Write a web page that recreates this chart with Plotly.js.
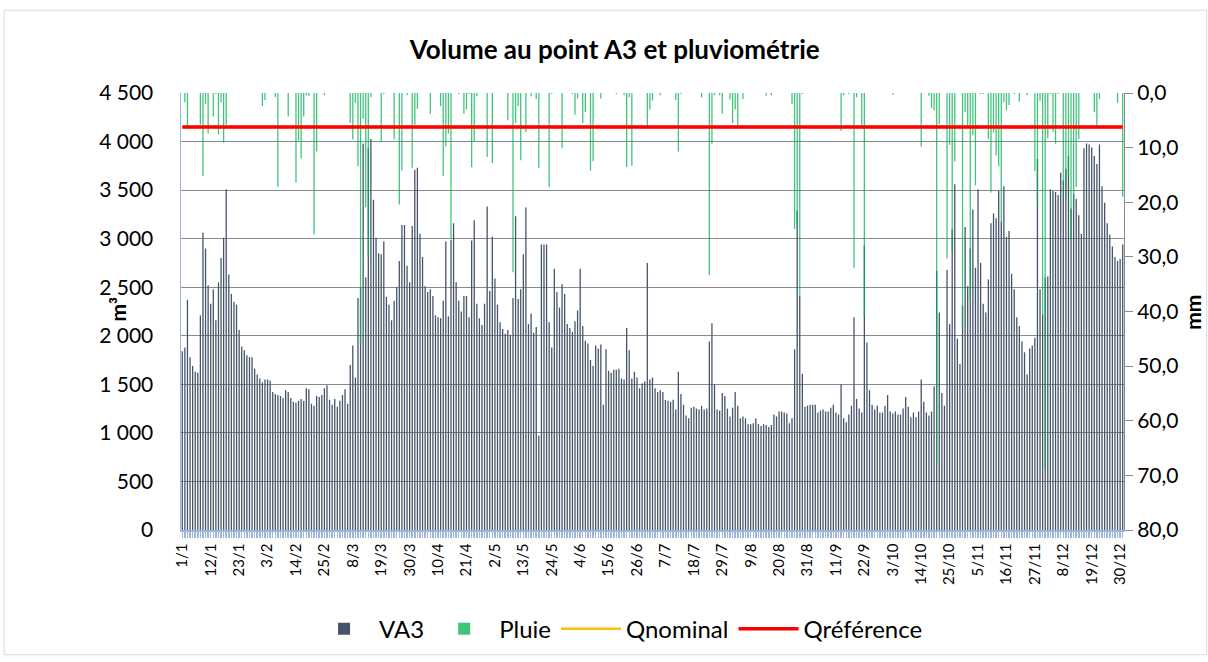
<!DOCTYPE html>
<html>
<head>
<meta charset="utf-8">
<script src="https://cdn.plot.ly/plotly-3.0.1.min.js"></script>
<style>
  html, body { margin: 0; padding: 0; background: #fff; }
  #plotArea { width: 1208px; height: 662px; }
</style>
</head>
<body>
<div id="plotArea"></div>
<script>
// daily categories 1/1 .. 31/12
var monthDays = [31, 28, 31, 30, 31, 30, 31, 31, 30, 31, 30, 31];
var days = [];
monthDays.forEach(function (n, m) {
  for (var d = 1; d <= n; d++) days.push(d + "/" + (m + 1));
});

// VA3 volume (m3), one value per day
var va3 = [
  1840,1880,2370,1780,1690,1630,1620,2210,3060,2900,
  2520,2330,2480,2160,2550,2800,3010,3510,2630,2430,
  2350,2320,2060,1890,1850,1800,1780,1780,1660,1600,
  1560,1520,1550,1550,1540,1420,1400,1390,1380,1360,
  1440,1420,1360,1320,1310,1330,1350,1330,1460,1450,
  1300,1280,1380,1370,1390,1460,1490,1340,1290,1350,
  1270,1330,1390,1450,1300,1700,1900,1570,2390,2500,
  3980,2600,3930,4030,3400,3010,2850,2840,2970,2400,
  2320,2160,2360,2500,2770,3140,3140,2720,2550,3130,
  3710,3730,3050,2810,2510,2450,2480,2410,2210,2190,
  2180,2360,2970,2200,2990,3160,2550,2360,2250,2410,
  2410,2190,2980,3190,2330,2180,2110,2330,3330,2460,
  3020,2590,2320,2140,2070,2020,2060,2010,2390,3230,
  2380,2480,2840,3320,2120,2230,2030,2090,970,2940,
  2940,2940,2140,1880,2690,2450,2290,2530,2430,2120,
  2080,2040,2150,2260,2690,2100,1950,1920,1750,1690,
  1900,1870,1910,1290,1860,1640,1620,1650,1650,1660,
  1560,1550,2080,1850,1560,1630,1570,1460,1510,1530,
  2750,1550,1570,1460,1420,1440,1420,1340,1330,1320,
  1340,1240,1630,1400,1290,1180,1150,1260,1270,1250,
  1240,1280,1240,1250,1940,2130,1500,1240,1230,1410,
  1380,1250,1170,1260,1420,1280,1150,1170,1150,1090,
  1090,1100,1150,1090,1070,1090,1080,1060,1080,1190,
  1170,1220,1220,1210,1200,1100,1150,1860,3290,2410,
  1610,1270,1280,1290,1290,1290,1210,1230,1240,1220,
  1220,1260,1290,1210,1190,1500,1150,1110,1190,1280,
  2190,1350,1250,1210,2930,1930,1440,1290,1240,1280,
  1210,1210,1280,1390,1220,1200,1220,1190,1190,1250,
  1370,1270,1160,1210,1160,1220,1550,1320,1210,1180,
  1220,1480,2670,2240,1410,1280,2680,2120,3100,3560,
  1970,1710,2310,3120,2510,2900,3300,2700,3510,2750,
  2330,2240,2580,3160,3260,3210,3490,3180,3540,3020,
  3080,2640,2480,2190,2100,1940,1830,1600,1870,1900,
  1980,3820,2480,2220,2600,2610,3510,3490,3480,3450,
  3680,3600,3720,3850,3310,3460,3410,3240,3050,3930,
  3980,3970,3940,3850,3770,3970,3540,3370,3160,3040,
  2920,2810,2770,2790,2940
];

// rain (mm): day index and amount, dry days left out
var rainDay = [
  1,2,7,8,9,10,12,13,14,15,16,17,
  31,32,36,37,41,44,45,46,47,48,49,51,52,55,
  65,66,67,68,69,70,71,72,73,77,78,82,84,85,87,89,90,
  91,96,100,101,102,103,104,107,109,110,111,112,113,114,118,120,126,128,129,130,131,133,135,137,
  138,142,143,147,151,152,153,155,156,158,159,162,168,171,172,173,174,180,181,182,
  185,191,192,193,201,204,205,206,208,209,212,213,214,215,217,226,228,
  236,237,238,239,240,255,256,258,260,261,263,264,275,
  286,289,290,291,292,293,296,297,298,299,302,303,304,305,306,307,309,310,
  312,313,314,315,316,317,318,319,320,322,
  324,327,330,331,332,333,334,335,336,337,338,339,
  341,342,343,344,345,346,347,353,354,355,362,364
];
var rainMm = [
  1.7,6.1,5.8,15.2,2.0,7.4,4.3,0.2,7.6,1.7,9.1,5.8,
  2.4,1.3,0.8,17.2,4.3,16.4,8.7,12.0,4.3,0.4,0.5,25.9,10.7,0.4,
  5.5,8.5,1.8,13.4,46.0,4.7,20.9,30.0,0.8,9.0,0.2,8.5,20.4,14.2,0.4,13.7,5.8,
  2.9,3.8,2.4,15.2,9.8,7.4,26.6,0.2,3.8,3.0,0.2,13.6,8.8,0.6,11.7,12.8,5.0,32.8,5.5,2.4,12.3,7.2,0.6,1.1,
  13.7,17.2,0.2,10.0,0.2,4.0,1.0,5.5,3.5,14.2,12.5,1.0,0.2,0.4,13.6,0.8,13.3,6.0,3.0,1.4,
  0.4,1.3,10.7,0.2,0.8,33.3,9.3,0.4,0.4,3.8,1.2,5.5,3.0,6.0,1.1,0.5,0.4,
  2.0,24.9,24.0,37.1,0.2,6.9,0.4,0.2,32.0,0.8,6.0,40.9,0.3,
  9.8,0.5,2.8,3.2,68.0,5.7,30.3,9.5,28.9,12.6,42.9,3.5,6.0,37.9,7.8,16.9,0.2,0.2,
  8.4,18.2,7.2,11.4,13.4,23.5,1.7,3.2,2.2,0.2,
  1.6,0.4,14.3,20.7,1.4,40.6,68.9,8.3,0.2,7.1,9.3,0.2,
  16.9,19.3,15.1,26.6,21.3,17.2,8.4,3.5,6.0,1.1,1.8,19.0
];

// flat reference lines (m3)
var qNominal = 4150;
var qReference = 4150;

// x labels every 11 days, tick mark on every day
var labelStep = 11;
var tickText = days.map(function (d, i) { return i % labelStep === 0 ? d : ""; });

var font = "Lato, 'Open Sans', sans-serif";

var traceVA3 = {
  x: days, y: va3, type: "bar", name: "VA3",
  marker: { color: "#44546A" },
  yaxis: "y", hoverinfo: "x+y"
};
var tracePluie = {
  x: rainDay.map(function (i) { return days[i]; }), y: rainMm, type: "bar", name: "Pluie",
  marker: { color: "rgba(0,176,80,0.75)" },
  yaxis: "y2", hoverinfo: "x+y"
};
var traceQnom = {
  x: days, y: days.map(function () { return qNominal; }), type: "scatter", mode: "lines",
  name: "Qnominal", line: { color: "#FFC000", width: 2.5 }, yaxis: "y3"
};
var traceQref = {
  x: days, y: days.map(function () { return qReference; }), type: "scatter", mode: "lines",
  name: "Qréférence", line: { color: "#FF0000", width: 3.5 }, yaxis: "y3"
};

var layout = {
  width: 1208, height: 662,
  margin: { l: 181, r: 84, t: 93, b: 131 },
  paper_bgcolor: "#fff", plot_bgcolor: "#fff",
  separators: ", ",
  font: { family: font, color: "#000", size: 20 },
  barmode: "overlay", bargap: 0.5,
  showlegend: true,
  title: {
    text: "<b>Volume au point A3 et pluviométrie</b>",
    font: { family: font, size: 26, color: "#000" },
    xref: "paper", x: 0.46, xanchor: "center",
    yref: "container", y: 0.924, yanchor: "middle"
  },
  xaxis: {
    type: "category", categoryorder: "array", categoryarray: days,
    tickmode: "array", tickvals: days, ticktext: tickText,
    tickangle: -90, tickfont: { family: font, size: 15 },
    ticks: "outside", ticklen: 6, tickwidth: 1.5, tickcolor: "#9DB4DD",
    showline: true, linecolor: "#9DB4DD", linewidth: 1.5,
    showgrid: false, zeroline: false, range: [-0.5, 364.5]
  },
  yaxis: {
    range: [0, 4500], dtick: 500, tickformat: ",.0f",
    tickfont: { family: font, size: 21 },
    showgrid: true, gridcolor: "#8A8A8A", gridwidth: 1,
    showline: true, linecolor: "#9DB4DD", linewidth: 1.5,
    ticks: "", ticklabelstandoff: 22, zeroline: false
  },
  yaxis2: {
    overlaying: "y", side: "right", range: [80, 0], dtick: 10, tickformat: ".1f",
    tickfont: { family: font, size: 21 },
    showgrid: false, zeroline: false,
    showline: true, linecolor: "#8A8A8A", linewidth: 1,
    ticks: "outside", ticklen: 8, tickcolor: "#8A8A8A"
  },
  yaxis3: {
    overlaying: "y", range: [0, 4500], visible: false
  },
  legend: {
    orientation: "h", x: 0.464, xanchor: "center", y: -0.224, yanchor: "middle",
    font: { family: font, size: 24 }, itemwidth: 60, traceorder: "normal"
  },
  annotations: [
    { text: "<b>m³</b>", xref: "paper", yref: "paper", x: -0.083, y: 0.505,
      textangle: -90, showarrow: false, font: { family: font, size: 21 } },
    { text: "<b>mm</b>", xref: "paper", yref: "paper", x: 1.088, y: 0.498,
      textangle: -90, showarrow: false, font: { family: font, size: 21 } }
  ],
  shapes: [
    { type: "rect", xref: "paper", yref: "paper",
      x0: -0.1876, x1: 1.0877, y0: -0.2854, y1: 1.1895,
      line: { color: "#D9D9D9", width: 1 }, fillcolor: "rgba(0,0,0,0)", layer: "below" }
  ]
};

Plotly.newPlot("plotArea", [traceVA3, tracePluie, traceQnom, traceQref], layout, { displayModeBar: false, staticPlot: true });
</script>
</body>
</html>
